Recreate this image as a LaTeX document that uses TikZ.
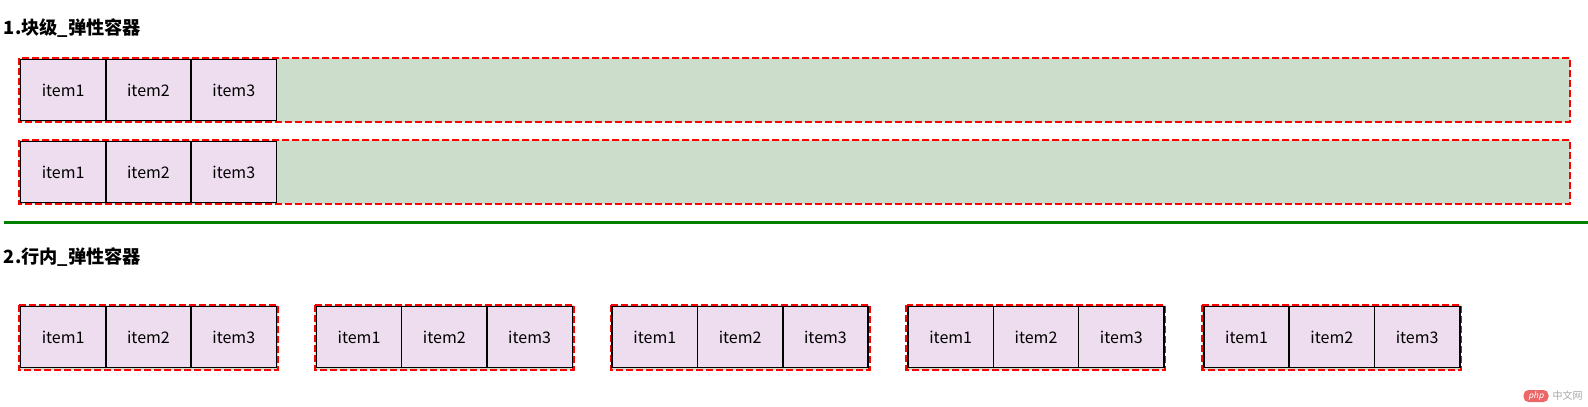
\documentclass[tikz,border=0pt]{standalone}
\usepackage{fontspec}
\usepackage{xcolor}
\usetikzlibrary{positioning,calc}
\newfontfamily\cjk{Noto Sans CJK SC}
\definecolor{itemfill}{RGB}{238,221,238}
\definecolor{boxfill}{RGB}{204,221,204}
\definecolor{rulegreen}{RGB}{0,128,0}
\definecolor{markred}{RGB}{236,104,104}

\begin{document}
\begin{tikzpicture}[
x=1pt,y=-1pt,
node distance=0pt,
every node/.style={
inner sep=0pt,
outer sep=0pt,
font=\cjk\fontsize{16}{19}\selectfont
},
item/.style={
draw=black,
line width=1.5pt,
fill=itemfill,
minimum width=85.3pt,
minimum height=61pt
},
boxline/.style={draw=red,line width=2.2pt,dash pattern=on 7pt off 3pt},
title/.style={anchor=west,font=\cjk\bfseries\fontsize{18.2}{22}\selectfont}
]
\useasboundingbox (0,0) rectangle (1588,407);

% 1. block containers
\node[title] (T1) at (4,28) {1.块级\_弹性容器};
\foreach \r/\y in {a/58,b/140}{
  \draw[boxline,fill=boxfill] (19,\y) rectangle (1570,\y+64);
  \node[item,anchor=north west] (\r1) at (20.5,\y+1.5) {item1};
  \node[item] (\r2) [right=of \r1] {item2};
  \node[item] (\r3) [right=of \r2] {item3};
}

% separator
\coordinate (L1) at (4,222.7);
\coordinate (L2) at (1588,222.7);
\draw[rulegreen,line width=3pt] (L1) -- (L2);

% 2. inline containers
\node[title] (T2) at (4,257) {2.行内\_弹性容器};
\foreach \i in {0,...,4}{
  \draw[boxline,fill=boxfill] ($(19,305)+(295.85*\i,0)$) rectangle ++(258.7,64.7);
  \node[item,anchor=north west] (c\i1) at ($(20.5,306.5)+(295.85*\i,0)$) {item1};
  \node[item] (c\i2) [right=of c\i1] {item2};
  \node[item] (c\i3) [right=of c\i2] {item3};
}

% watermark
\node[fill=markred,rounded corners=5pt,minimum width=25pt,minimum height=12pt,
  text=white,font=\sffamily\itshape\fontsize{10}{10}\selectfont] (php) at (1536,396) {php};
\node[right=4pt of php,text=gray!70,font=\cjk\fontsize{10}{10}\selectfont] (cn) {中文网};
\end{tikzpicture}
\end{document}
